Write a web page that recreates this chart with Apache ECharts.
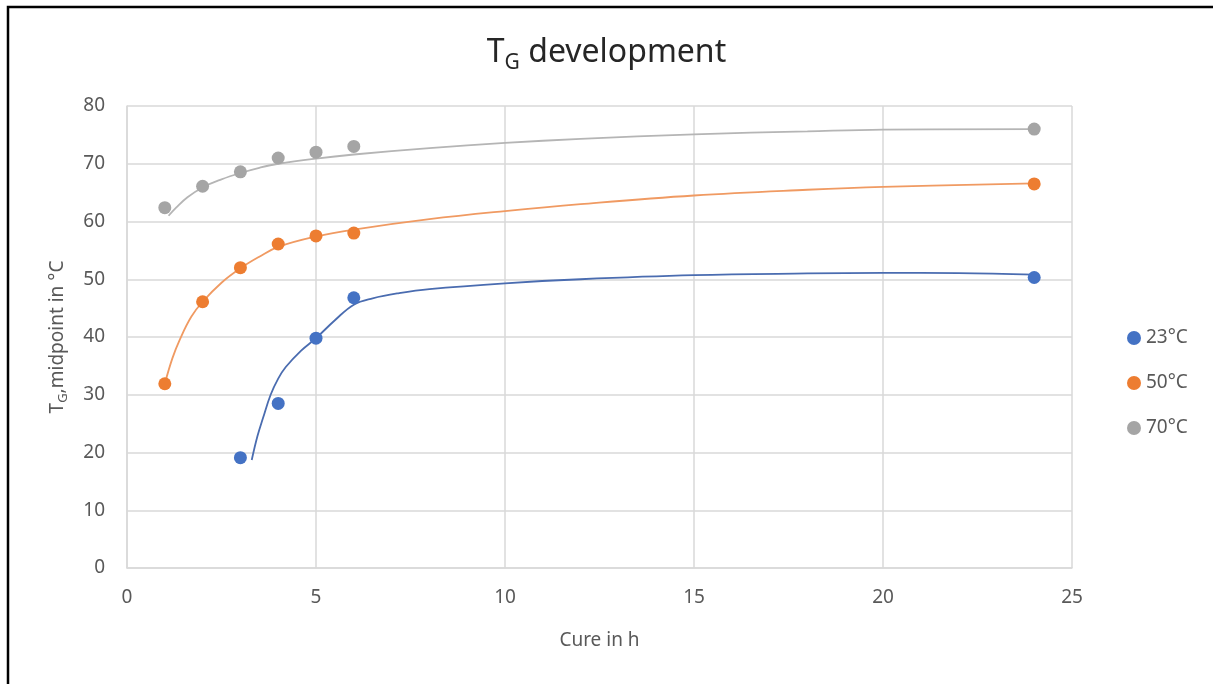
<!DOCTYPE html>
<html>
<head>
<meta charset="utf-8">
<script src="https://cdn.jsdelivr.net/npm/echarts@6/dist/echarts.min.js"></script>
<style>
html,body{margin:0;padding:0;background:#fff;}
#chart{width:1213px;height:684px;}
</style>
</head>
<body>
<div id="chart"></div>
<script>
// Measured points (cure time in h, Tg midpoint in °C)
var hours = [1, 2, 3, 4, 5, 6, 24];
var tg70 = [62.4, 66.1, 68.6, 71.0, 72.0, 73.0, 76.0];
var tg50 = [31.9, 46.1, 52.0, 56.1, 57.5, 58.0, 66.5];
var hours23 = [3, 4, 5, 6, 24];
var tg23 = [19.1, 28.5, 39.8, 46.8, 50.3];

// Trend curves
var trend70X = [1.1, 1.3, 1.6, 2, 2.5, 3, 3.5, 4, 5, 6, 8, 10, 12, 15, 18, 20, 24];
var trend70Y = [61.0, 62.4, 64.2, 65.9, 67.3, 68.4, 69.3, 70.0, 70.9, 71.6, 72.7, 73.6, 74.3, 75.1, 75.6, 75.9, 76.0];
var trend50X = [1, 1.2, 1.4, 1.7, 2, 2.5, 3, 3.5, 4, 5, 6, 8, 10, 12, 15, 18, 20, 24];
var trend50Y = [31.9, 36.3, 39.6, 43.5, 46.1, 49.4, 51.9, 53.9, 55.6, 57.4, 58.6, 60.4, 61.8, 63.0, 64.5, 65.5, 66.0, 66.6];
var trend23X = [3.3, 3.45, 3.6, 3.8, 4.0, 4.2, 4.6, 5, 5.5, 6, 6.5, 7.2, 8, 10, 12, 15, 18, 20, 22, 24];
var trend23Y = [18.7, 22.8, 26.0, 30.0, 32.8, 34.8, 37.6, 39.8, 42.9, 45.6, 46.7, 47.6, 48.3, 49.3, 50.0, 50.7, 51.0, 51.1, 51.05, 50.8];

var seriesNames = ['23°C', '50°C', '70°C'];
var xTicks = [0, 5, 10, 15, 20, 25];
var yTicks = [0, 10, 20, 30, 40, 50, 60, 70, 80];

function pairs(xs, ys) { return xs.map(function (x, i) { return [x, ys[i]]; }); }

var FONT = '"Noto Sans", "Liberation Sans", sans-serif';
var TXT = '#595959';

var chart = echarts.init(document.getElementById('chart'), null, { renderer: 'canvas' });
chart.setOption({
  animation: false,
  backgroundColor: '#fff',
  textStyle: { fontFamily: FONT },
  graphic: [{
    type: 'rect',
    shape: { x: 8, y: 7, width: 1400, height: 900 },
    style: { fill: 'none', stroke: '#000', lineWidth: 2.5 },
    silent: true
  }],
  title: {
    text: '{t|T}{s|G}{t| development}',
    left: 'center',
    top: 26,
    textStyle: {
      rich: {
        t: { fontFamily: FONT, fontSize: 32, fontWeight: 'normal', color: '#262626' },
        s: { fontFamily: FONT, fontSize: 21, fontWeight: 'normal', color: '#262626', padding: [22, 0, 0, 0] }
      }
    }
  },
  legend: {
    orient: 'vertical',
    left: 1122,
    top: 323,
    itemWidth: 14,
    itemHeight: 14,
    itemGap: 25,
    icon: 'circle',
    data: seriesNames,
    textStyle: { fontFamily: FONT, fontSize: 19, color: TXT, lineHeight: 20 }
  },
  grid: { left: 127, right: 141, top: 106, bottom: 116, containLabel: false },
  xAxis: {
    type: 'value',
    min: xTicks[0],
    max: xTicks[xTicks.length - 1],
    interval: 5,
    name: 'Cure in h',
    nameLocation: 'middle',
    nameGap: 63,
    nameTextStyle: { fontFamily: FONT, fontSize: 19, color: TXT },
    axisLine: { show: true, lineStyle: { color: '#D9D9D9', width: 1.5 } },
    axisTick: { show: false },
    axisLabel: { margin: 20, fontFamily: FONT, fontSize: 19, color: TXT },
    splitLine: { show: true, lineStyle: { color: '#D9D9D9', width: 1.5 } }
  },
  yAxis: {
    type: 'value',
    min: yTicks[0],
    max: yTicks[yTicks.length - 1],
    interval: 10,
    name: '{t|T}{s|G}{t|,midpoint in °C}',
    nameLocation: 'middle',
    nameGap: 57,
    nameTextStyle: {
      rich: {
        t: { fontFamily: FONT, fontSize: 19, color: TXT },
        s: { fontFamily: FONT, fontSize: 13, color: TXT, padding: [12, 0, 0, 0] }
      }
    },
    axisLine: { show: true, lineStyle: { color: '#D9D9D9', width: 1.5 } },
    axisTick: { show: false },
    axisLabel: { margin: 22, fontFamily: FONT, fontSize: 19, color: TXT },
    splitLine: { show: true, lineStyle: { color: '#D9D9D9', width: 1.5 } }
  },
  series: [
    { name: 'trend23', type: 'line', smooth: 0.4, showSymbol: false, silent: true, z: 2,
      data: pairs(trend23X, trend23Y), lineStyle: { color: '#4A6CB0', width: 1.8 } },
    { name: 'trend50', type: 'line', smooth: 0.4, showSymbol: false, silent: true, z: 2,
      data: pairs(trend50X, trend50Y), lineStyle: { color: '#F09A62', width: 1.8 } },
    { name: 'trend70', type: 'line', smooth: 0.4, showSymbol: false, silent: true, z: 2,
      data: pairs(trend70X, trend70Y), lineStyle: { color: '#B5B5B5', width: 1.8 } },
    { name: seriesNames[0], type: 'scatter', symbolSize: 13, z: 3,
      itemStyle: { color: '#4472C4', opacity: 1 }, data: pairs(hours23, tg23) },
    { name: seriesNames[1], type: 'scatter', symbolSize: 13, z: 3,
      itemStyle: { color: '#ED7D31', opacity: 1 }, data: pairs(hours, tg50) },
    { name: seriesNames[2], type: 'scatter', symbolSize: 13, z: 3,
      itemStyle: { color: '#A5A5A5', opacity: 1 }, data: pairs(hours, tg70) }
  ]
});
</script>
</body>
</html>
